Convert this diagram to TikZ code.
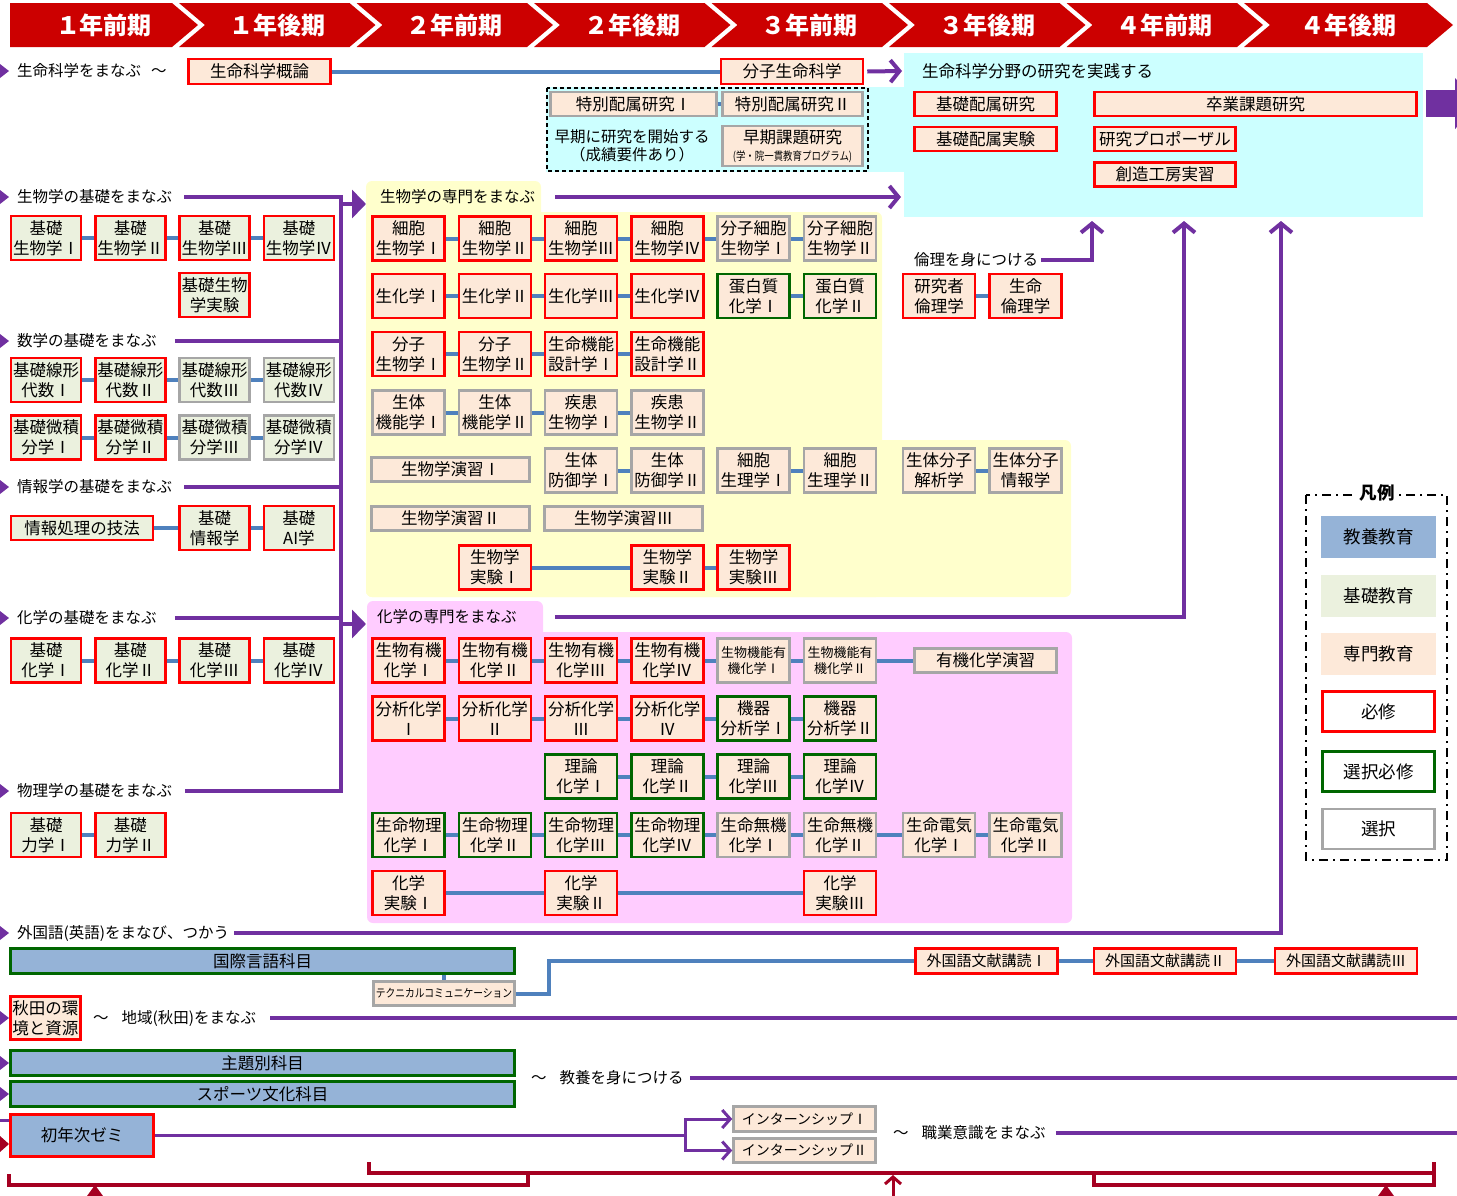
\documentclass[tikz,border=0pt]{standalone}
\usepackage{fontspec}
\setmainfont{Noto Sans CJK JP}
\usetikzlibrary{arrows.meta}

\definecolor{headred}{HTML}{CC0000}
\definecolor{reqred}{HTML}{FF0000}
\definecolor{selgreen}{HTML}{006600}
\definecolor{optgray}{HTML}{A6A6A6}
\definecolor{libblue}{HTML}{95B3D7}
\definecolor{basefill}{HTML}{EBF1DE}
\definecolor{specfill}{HTML}{FDE9D9}
\definecolor{linkblue}{HTML}{4F81BD}
\definecolor{flowpurple}{HTML}{7030A0}
\definecolor{bracketred}{HTML}{A50021}
\definecolor{bioyellow}{HTML}{FFFFCC}
\definecolor{chempink}{HTML}{FFCCFF}
\definecolor{rescyan}{HTML}{CCFFFF}

\newcommand{\crsfont}{\fontsize{16.5}{20}\selectfont}
\newcommand{\crsmid}{\fontsize{15}{18}\selectfont}
\newcommand{\crsint}{\fontsize{14}{17}\selectfont}
\newcommand{\crssmall}{\fontsize{13}{16}\selectfont}
\newcommand{\crstiny}{\fontsize{11.5}{13}\selectfont}
\newcommand{\lblfont}{\fontsize{15.5}{18}\selectfont}
\newcommand{\legfont}{\fontsize{17.5}{20}\selectfont}
\newcommand{\termfont}{\fontsize{24}{28}\selectfont\bfseries}

\tikzset{
  course/.style={draw, line width=2.5pt, inner sep=0pt, align=center, font=\crsfont, text=black},
  req/.style={course, draw=reqred},
  sel/.style={course, draw=selgreen},
  opt/.style={course, draw=optgray},
  base/.style={fill=basefill, minimum width=70pt, minimum height=44pt},
  spec/.style={fill=specfill, minimum width=72pt, minimum height=44pt},
  lib/.style={fill=libblue},
  lbl/.style={anchor=west, inner sep=0pt, font=\lblfont},
  link/.style={draw=linkblue, line width=4pt},
  flow/.style={draw=flowpurple, line width=4pt},
  flowarrow/.style={flow, -{Straight Barb[length=9pt,width=22pt]}},
  intoarea/.style={flow, -{Triangle[length=14pt,width=28pt]}},
  bracket/.style={draw=bracketred, line width=4pt},
  legendbox/.style={minimum width=115pt, minimum height=42pt, inner sep=0pt, font=\legfont},
}

\begin{document}
\begin{tikzpicture}[x=1pt, y=-1pt]
  \useasboundingbox (0,0) rectangle (1457,1195);

  % Terms
  \foreach \lab [count=\i from 0] in {１年前期,１年後期,２年前期,２年後期,３年前期,３年後期,４年前期,４年後期}{
    \pgfmathsetmacro{\xa}{\i==0 ? 10 : 179+177.5*(\i-1)}
    \pgfmathsetmacro{\xb}{\i==7 ? 1427 : 172+177.5*\i}
    \pgfmathsetmacro{\xn}{\i==0 ? 10 : \xa+26}
    \fill[headred] (\xa,3) -- (\xb,3) -- (\xb+26,25) -- (\xb,47) -- (\xa,47) -- (\xn,25) -- cycle;
    \node[font=\termfont, text=white] (term\i) at ({(\xa+\xb)/2+13},25) {\lab};
  }

  % Areas
  \fill[rescyan] (904,53) rectangle (1423,217);
  \fill[rescyan] (546,87) rectangle (904,172);
  \draw[dash pattern=on 4pt off 3pt, line width=1.2pt] (547,88) rectangle (868,171);
  \fill[bioyellow, rounded corners=6pt] (366,181) rectangle (541,230);
  \fill[bioyellow, rounded corners=6pt] (366,212) rectangle (882,597);
  \fill[bioyellow, rounded corners=6pt] (366,440) rectangle (1071,597);
  \fill[chempink, rounded corners=6pt] (367,601) rectangle (543,650);
  \fill[chempink, rounded corners=6pt] (367,632) rectangle (1072,923);

  % Left markers
  \foreach \y in {71,197,341,487,618,791,933,1018,1063,1094}
    \fill[flowpurple] (0,\y-7) -- (9,\y) -- (0,\y+7) -- cycle;
  \draw[flowpurple, line width=3pt] (0,1120) -- (9,1120);
  \fill[bracketred] (0,1136) -- (9,1144) -- (0,1152) -- cycle;

  % Labels
  \node[lbl] (labLife) at (17,71) {生命科学をまなぶ\hspace{10pt}～};
  \node[lbl] (labBio) at (17,197) {生物学の基礎をまなぶ};
  \node[lbl] (labMath) at (17,341) {数学の基礎をまなぶ};
  \node[lbl] (labInfo) at (17,487) {情報学の基礎をまなぶ};
  \node[lbl] (labChem) at (17,618) {化学の基礎をまなぶ};
  \node[lbl] (labPhys) at (17,791) {物理学の基礎をまなぶ};
  \node[lbl] (labLang) at (17,933) {外国語(英語)をまなび、つかう};
  \node[lbl] (labBioSpec) at (380,197) {生物学の専門をまなぶ};
  \node[lbl] (labChemSpec) at (377,617) {化学の専門をまなぶ};
  \node[lbl, font=\crsfont] (labRes) at (922,71) {生命科学分野の研究を実践する};
  \node[lbl] (labEthics) at (914,260) {倫理を身につける};
  \node[lbl] (labAkita) at (93,1018) {～\hspace{13pt}地域(秋田)をまなぶ};
  \node[lbl] (labCulture) at (531,1078) {～\hspace{13pt}教養を身につける};
  \node[lbl] (labCareer) at (893,1133) {～\hspace{13pt}職業意識をまなぶ};
  \node[align=center, font=\lblfont] (labEarly) at (632,146) {早期に研究を開始する\\（成績要件あり）};

  % Research
  \node[req, spec, minimum width=142pt, minimum height=25pt] (intro) at (259.5,71.5) {生命科学概論};
  \node[req, spec, minimum width=142pt, minimum height=25pt] (molLife) at (792,71.5) {分子生命科学};
  \node[opt, spec, minimum width=166pt, minimum height=24pt] (special1) at (633.5,104) {特別配属研究Ⅰ};
  \node[opt, spec, minimum width=140pt, minimum height=24pt] (special2) at (792.5,104) {特別配属研究Ⅱ};
  \node[opt, spec, minimum width=140pt, minimum height=40pt] (early) at (792.5,146) {早期課題研究\\[-3pt]{\crstiny\scalebox{0.82}[1]{(学・院一貫教育プログラム)}}};
  \node[req, spec, minimum width=142pt, minimum height=24pt] (basicRes) at (985.5,104) {基礎配属研究};
  \node[req, spec, minimum width=142pt, minimum height=24pt] (basicExp) at (985.5,139) {基礎配属実験};
  \node[req, spec, minimum width=322pt, minimum height=24pt] (thesis) at (1255.5,104) {卒業課題研究};
  \node[req, spec, minimum width=141pt, minimum height=24pt] (proposal) at (1165,139) {研究プロポーザル};
  \node[req, spec, minimum width=141pt, minimum height=24pt] (workshop) at (1165,174.5) {創造工房実習};
  \node[req, spec] (ethics1) at (939,296) {研究者\\倫理学};
  \node[req, spec] (ethics2) at (1025.5,296) {生命\\倫理学};

  % Basics
  \foreach \r [count=\i] in {Ⅰ,Ⅱ,Ⅲ,Ⅳ}{
    \node[req, base] (bbio\i) at ({46+84.3*(\i-1)},238) {基礎\\生物学\r};
    \node[req, base] (bchem\i) at ({46+84.3*(\i-1)},660.5) {基礎\\化学\r};
  }
  \foreach \r/\k [count=\i] in {Ⅰ/req,Ⅱ/req,Ⅲ/opt,Ⅳ/opt}{
    \node[\k, base] (blin\i) at ({46+84.3*(\i-1)},380) {基礎線形\\代数\r};
    \node[\k, base] (bcal\i) at ({46+84.3*(\i-1)},437.5) {基礎微積\\分学\r};
  }
  \node[req, base] (bbiolab) at (214.6,295) {基礎生物\\学実験};
  \node[req, base, minimum width=142pt, minimum height=24pt] (infoproc) at (82,528) {情報処理の技法};
  \node[req, base] (binfo) at (214.6,528) {基礎\\情報学};
  \node[req, base] (bai) at (298.9,528) {基礎\\AI学};
  \node[req, base] (bmech1) at (46,835) {基礎\\力学Ⅰ};
  \node[req, base] (bmech2) at (130.3,835) {基礎\\力学Ⅱ};

  % Biology
  \foreach \t/\k [count=\i] in {細胞\\生物学Ⅰ/req,細胞\\生物学Ⅱ/req,細胞\\生物学Ⅲ/req,細胞\\生物学Ⅳ/req,分子細胞\\生物学Ⅰ/opt,分子細胞\\生物学Ⅱ/opt}
    \node[\k, spec] (cellbio\i) at ({408.5+86.3*(\i-1)},238.5) {\t};
  \foreach \t/\k [count=\i] in {生化学Ⅰ/req,生化学Ⅱ/req,生化学Ⅲ/req,生化学Ⅳ/req,蛋白質\\化学Ⅰ/sel,蛋白質\\化学Ⅱ/sel}
    \node[\k, spec] (biochem\i) at ({408.5+86.3*(\i-1)},296) {\t};
  \foreach \t [count=\i] in {分子\\生物学Ⅰ,分子\\生物学Ⅱ,生命機能\\設計学Ⅰ,生命機能\\設計学Ⅱ}
    \node[req, spec] (molbio\i) at ({408.5+86.3*(\i-1)},354) {\t};
  \foreach \t [count=\i] in {生体\\機能学Ⅰ,生体\\機能学Ⅱ,疾患\\生物学Ⅰ,疾患\\生物学Ⅱ}
    \node[opt, spec] (organ\i) at ({408.5+86.3*(\i-1)},412.5) {\t};
  \foreach \t/\c in {生体\\防御学Ⅰ/3,生体\\防御学Ⅱ/4,細胞\\生理学Ⅰ/5,細胞\\生理学Ⅱ/6}
    \node[opt, spec] (defense\c) at ({408.5+86.3*(\c-1)},470.5) {\t};
  \node[opt, spec] (biomol1) at (939,470.5) {生体分子\\解析学};
  \node[opt, spec] (biomol2) at (1025.5,470.5) {生体分子\\情報学};
  \node[opt, spec, minimum width=158pt, minimum height=24pt] (drill1) at (450.5,469.5) {生物学演習Ⅰ};
  \node[opt, spec, minimum width=158pt, minimum height=24pt] (drill2) at (450.5,518.5) {生物学演習Ⅱ};
  \node[opt, spec, minimum width=158pt, minimum height=24pt] (drill3) at (623.5,518.5) {生物学演習Ⅲ};
  \foreach \t/\c in {生物学\\実験Ⅰ/2,生物学\\実験Ⅱ/4,生物学\\実験Ⅲ/5}
    \node[req, spec] (biolab\c) at ({408.5+86.3*(\c-1)},567.5) {\t};

  % Chemistry
  \foreach \t/\k [count=\i] in {生物有機\\化学Ⅰ/req,生物有機\\化学Ⅱ/req,生物有機\\化学Ⅲ/req,生物有機\\化学Ⅳ/req}
    \node[\k, spec] (orgchem\i) at ({408.5+86.3*(\i-1)},660.5) {\t};
  \node[opt, spec, font=\crssmall] (orgchem5) at (753.7,660.5) {生物機能有\\機化学Ⅰ};
  \node[opt, spec, font=\crssmall] (orgchem6) at (840,660.5) {生物機能有\\機化学Ⅱ};
  \node[opt, spec, minimum width=142pt, minimum height=24pt] (orgdrill) at (985.5,660.5) {有機化学演習};
  \foreach \t/\k [count=\i] in {分析化学\\Ⅰ/req,分析化学\\Ⅱ/req,分析化学\\Ⅲ/req,分析化学\\Ⅳ/req,機器\\分析学Ⅰ/sel,機器\\分析学Ⅱ/sel}
    \node[\k, spec] (anal\i) at ({408.5+86.3*(\i-1)},718.5) {\t};
  \foreach \t/\c in {理論\\化学Ⅰ/3,理論\\化学Ⅱ/4,理論\\化学Ⅲ/5,理論\\化学Ⅳ/6}
    \node[sel, spec] (theory\c) at ({408.5+86.3*(\c-1)},776.5) {\t};
  \foreach \t/\k [count=\i] in {生命物理\\化学Ⅰ/sel,生命物理\\化学Ⅱ/sel,生命物理\\化学Ⅲ/sel,生命物理\\化学Ⅳ/sel,生命無機\\化学Ⅰ/opt,生命無機\\化学Ⅱ/opt}
    \node[\k, spec] (physchem\i) at ({408.5+86.3*(\i-1)},835) {\t};
  \node[opt, spec] (physchem7) at (939,835) {生命電気\\化学Ⅰ};
  \node[opt, spec] (physchem8) at (1025.5,835) {生命電気\\化学Ⅱ};
  \foreach \t/\c in {化学\\実験Ⅰ/1,化学\\実験Ⅱ/3,化学\\実験Ⅲ/6}
    \node[req, spec] (chemlab\c) at ({408.5+86.3*(\c-1)},893) {\t};

  % Liberal arts
  \node[sel, lib, minimum width=504pt, minimum height=25pt] (intl) at (262.5,961) {国際言語科目};
  \node[opt, spec, minimum width=141pt, minimum height=24pt, font=\crstiny] (tech) at (444,993.5) {\scalebox{0.85}[1]{テクニカルコミュニケーション}};
  \node[req, spec, minimum width=142pt, minimum height=25pt, font=\crsmid] (lit1) at (986.5,961) {外国語文献講読Ⅰ};
  \node[req, spec, minimum width=142pt, minimum height=25pt, font=\crsmid] (lit2) at (1165,961) {外国語文献講読Ⅱ};
  \node[req, spec, minimum width=142pt, minimum height=25pt, font=\crsmid] (lit3) at (1346,961) {外国語文献講読Ⅲ};
  \node[req, spec, minimum width=70pt, minimum height=43pt] (akita) at (45.5,1018) {秋田の環\\境と資源};
  \node[sel, lib, minimum width=504pt, minimum height=25pt] (theme) at (262.5,1063) {主題別科目};
  \node[sel, lib, minimum width=504pt, minimum height=25pt] (sports) at (262.5,1094) {スポーツ文化科目};
  \node[req, lib, minimum width=143pt, minimum height=42pt] (seminar) at (82,1135.5) {初年次ゼミ};
  \node[opt, spec, minimum width=142pt, minimum height=25pt, font=\crsint] (intern1) at (804.5,1119) {インターンシップⅠ};
  \node[opt, spec, minimum width=142pt, minimum height=24pt, font=\crsint] (intern2) at (804.5,1150.5) {インターンシップⅡ};

  % Links
  \draw[link] (intro) -- (molLife);
  \draw[link] (special1) -- (special2);
  \draw[link] (ethics1) -- (ethics2);
  \foreach \a/\b in {1/2,2/3,3/4}{
    \draw[link] (bbio\a) -- (bbio\b);
    \draw[link] (blin\a) -- (blin\b);
    \draw[link] (bcal\a) -- (bcal\b);
    \draw[link] (bchem\a) -- (bchem\b);
    \draw[link] (molbio\a) -- (molbio\b);
    \draw[link] (organ\a) -- (organ\b);
  }
  \draw[link] (infoproc) -- (binfo);
  \draw[link] (binfo) -- (bai);
  \draw[link] (bmech1) -- (bmech2);
  \foreach \a/\b in {1/2,2/3,3/4,4/5,5/6}{
    \draw[link] (cellbio\a) -- (cellbio\b);
    \draw[link] (orgchem\a) -- (orgchem\b);
    \draw[link] (anal\a) -- (anal\b);
  }
  \foreach \a/\b in {1/2,2/3,3/4,5/6}
    \draw[link] (biochem\a) -- (biochem\b);
  \foreach \a/\b in {3/4,5/6}
    \draw[link] (defense\a) -- (defense\b);
  \draw[link] (biomol1) -- (biomol2);
  \draw[link] (biolab2) -- (biolab4);
  \draw[link] (biolab4) -- (biolab5);
  \draw[link] (orgchem6) -- (orgdrill);
  \foreach \a/\b in {3/4,4/5,5/6}
    \draw[link] (theory\a) -- (theory\b);
  \foreach \a/\b in {1/2,2/3,3/4,4/5,5/6,6/7,7/8}
    \draw[link] (physchem\a) -- (physchem\b);
  \draw[link] (chemlab1) -- (chemlab3);
  \draw[link] (chemlab3) -- (chemlab6);
  \draw[link] (intl.south -| tech.north) -- (tech.north);
  \draw[link] (tech.east) -- ++(33,0) |- (lit1.west);
  \draw[link] (lit1) -- (lit2);
  \draw[link] (lit2) -- (lit3);

  % Flows
  \coordinate (trunkTop) at (341,197);
  \coordinate (trunkBot) at (341,791);
  \coordinate (bioIn) at (366,204);
  \coordinate (chemIn) at (366,624);
  \coordinate (researchIn) at (902,71);
  \coordinate (bioSpecEnd) at (901,197);
  \coordinate (resIn1) at (1092,221);
  \coordinate (resIn2) at (1184,221);
  \coordinate (resIn3) at (1281,221);
  \coordinate (edgeAkita) at (1457,1018);
  \coordinate (edgeCulture) at (1457,1078);
  \coordinate (edgeCareer) at (1457,1133);
  \coordinate (branch) at (685,1135.5);
  \draw[flow] ([xshift=12pt]labBio.east) -- (trunkTop) -- (trunkBot) -- ([xshift=13pt]labPhys.east);
  \draw[flow] ([xshift=18pt]labMath.east) -- (labMath.east -| trunkTop);
  \draw[flow] ([xshift=12pt]labInfo.east) -- (labInfo.east -| trunkTop);
  \draw[flow] ([xshift=18pt]labChem.east) -- (labChem.east -| trunkTop);
  \draw[intoarea] (bioIn -| trunkTop) -- (bioIn);
  \draw[intoarea] (chemIn -| trunkTop) -- (chemIn);
  \draw[flowarrow] ([xshift=3pt]molLife.east) -- (researchIn);
  \draw[flowarrow] ([xshift=20pt]labBioSpec.east) -- (bioSpecEnd);
  \draw[flowarrow] ([xshift=3pt]labEthics.east) -| (resIn1);
  \draw[flowarrow] ([xshift=38pt]labChemSpec.east) -| (resIn2);
  \draw[flowarrow] ([xshift=5pt]labLang.east) -| (resIn3);
  \draw[flow] ([xshift=14pt]labAkita.east) -- (edgeAkita);
  \draw[flow] ([xshift=6pt]labCulture.east) -- (edgeCulture);
  \draw[flow] ([xshift=10pt]labCareer.east) -- (edgeCareer);
  \draw[flow, line width=3pt] (seminar.east) -- (branch);
  \draw[flow, line width=3pt, -{Straight Barb[length=8pt,width=18pt]}] (branch) |- (intern1.west);
  \draw[flow, line width=3pt, -{Straight Barb[length=8pt,width=18pt]}] (branch) |- (intern2.west);

  % Block arrow to the right
  \fill[flowpurple] (1426,90) rectangle (1456,117);
  \fill[flowpurple] (1455,78) -- (1480,103.5) -- (1455,129) -- cycle;

  % Brackets
  \draw[bracket] (9,1174) |- (528,1185) -- (528,1174);
  \draw[bracket] (369,1162) |- (1434,1173) -- (1434,1162);
  \draw[bracket] (1094,1173) |- (1434,1185) -- (1434,1173);
  \fill[bracketred] (87,1196) -- (95,1185) -- (103,1196) -- cycle;
  \fill[bracketred] (1378,1196) -- (1386,1185) -- (1394,1196) -- cycle;
  \draw[bracket, line width=3pt, -{Straight Barb[length=7pt,width=16pt]}] (893,1198) -- (893,1175);

  % Legend
  \draw[line width=2pt, dash pattern=on 9pt off 5pt on 2pt off 5pt] (1306,495) rectangle (1447,860);
  \node[fill=white, font=\legfont\bfseries, inner sep=3pt] (legTitle) at (1377,493) {凡例};
  \node[legendbox, fill=libblue] (legLib) at (1378.5,537) {教養教育};
  \node[legendbox, fill=basefill] (legBase) at (1378.5,596) {基礎教育};
  \node[legendbox, fill=specfill] (legSpec) at (1378.5,654) {専門教育};
  \node[legendbox, draw=reqred, line width=2.5pt, minimum width=112pt, minimum height=40pt] (legReq) at (1378.5,711.5) {必修};
  \node[legendbox, draw=selgreen, line width=2.5pt, minimum width=112pt, minimum height=40pt] (legSel) at (1378.5,771.5) {選択必修};
  \node[legendbox, draw=optgray, line width=2.5pt, minimum width=112pt, minimum height=40pt] (legOpt) at (1378.5,829) {選択};
\end{tikzpicture}
\end{document}
